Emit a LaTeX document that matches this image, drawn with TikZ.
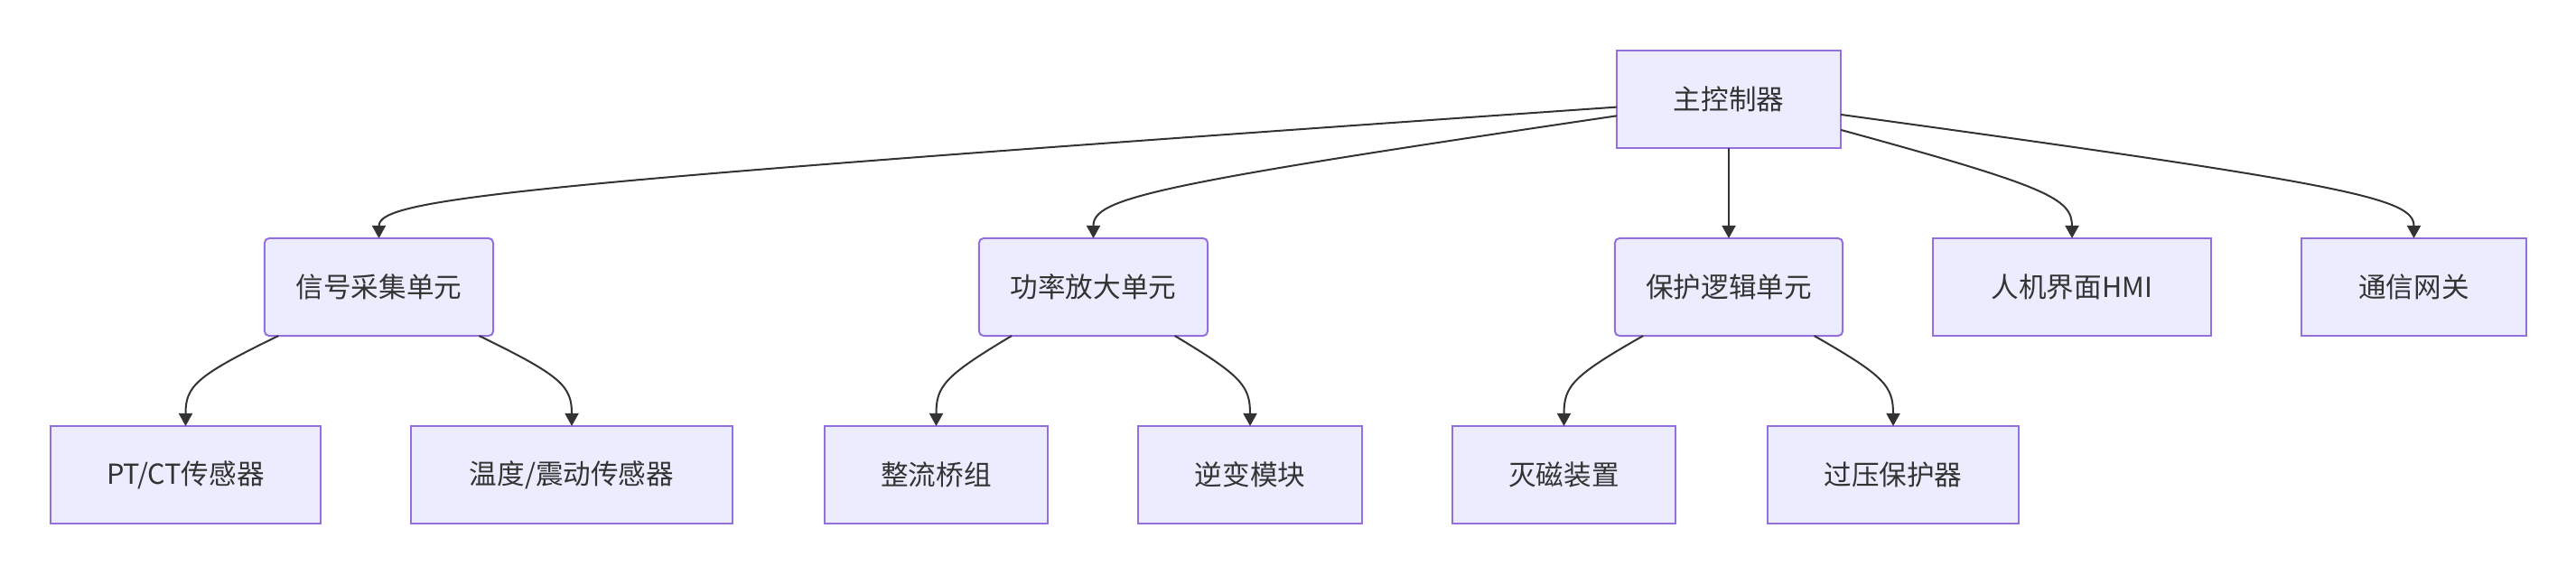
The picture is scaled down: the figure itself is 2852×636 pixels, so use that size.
\documentclass[tikz,border=0pt]{standalone}
\usepackage{fontspec}
\newfontfamily\cjk{Noto Sans CJK SC}
\usetikzlibrary{arrows.meta}
\definecolor{boxfill}{HTML}{ECECFF}
\definecolor{boxline}{HTML}{9370DB}
\definecolor{inkgray}{HTML}{333333}

\begin{document}
\begin{tikzpicture}[x=0.01cm, y=0.01cm,
        unit/.style={draw=boxline, fill=boxfill, line width=0.02cm, text=inkgray,
            font=\cjk\fontsize{8.7}{10}\selectfont, minimum height=1.08cm,
            inner sep=0pt, outer sep=0pt},
        group/.style={unit, rounded corners=0.05cm},
        link/.style={draw=inkgray, line width=0.02cm, -{Triangle[length=0.14cm, width=0.15cm]}}]
        \useasboundingbox (0,0) rectangle (2852,636);
        % Main controller
        \node[unit, minimum width=2.48cm] (main) at (1914,526) {主控制器};
        % Second level
        \node[group, minimum width=2.53cm] (sig) at (419.5,318) {信号采集单元};
        \node[group, minimum width=2.53cm] (pow) at (1210.5,318) {功率放大单元};
        \node[group, minimum width=2.52cm] (prot) at (1914,318) {保护逻辑单元};
        \node[unit, minimum width=3.08cm] (hmi) at (2294,318) {人机界面HMI};
        \node[unit, minimum width=2.49cm] (gw) at (2672.5,318) {通信网关};
        % Third level
        \node[unit, minimum width=2.99cm] (ptct) at (205.5,110) {PT/CT传感器};
        \node[unit, minimum width=3.56cm] (temp) at (633,110) {温度/震动传感器};
        \node[unit, minimum width=2.47cm] (rect) at (1036.5,110) {整流桥组};
        \node[unit, minimum width=2.48cm] (inv) at (1384,110) {逆变模块};
        \node[unit, minimum width=2.47cm] (demag) at (1731.5,110) {灭磁装置};
        \node[unit, minimum width=2.78cm] (ovp) at (2096,110) {过压保护器};
        % Links from the controller
        \draw[link] (main) .. controls (571.6,432.6) and (419.5,416.4) .. (sig);
        \draw[link] (main) .. controls (1274.8,431.5) and (1210.5,416.4) .. (pow);
        \draw[link] (main) -- (prot);
        \draw[link] (main) .. controls (2265.6,429.8) and (2294,416.4) .. (hmi);
        \draw[link] (main) .. controls (2602.1,431.7) and (2672.5,416.4) .. (gw);
        % Links to the devices
        \draw[link] (sig) .. controls (216.9,219.6) and (205.5,208.4) .. (ptct);
        \draw[link] (sig) .. controls (621.6,219.6) and (633,208.4) .. (temp);
        \draw[link] (pow) .. controls (1045.8,219.6) and (1036.5,208.4) .. (rect);
        \draw[link] (pow) .. controls (1374.7,219.6) and (1384,208.4) .. (inv);
        \draw[link] (prot) .. controls (1741.2,219.6) and (1731.5,208.4) .. (demag);
        \draw[link] (prot) .. controls (2086.3,219.6) and (2096,208.4) .. (ovp);
    \end{tikzpicture}
\end{document}
